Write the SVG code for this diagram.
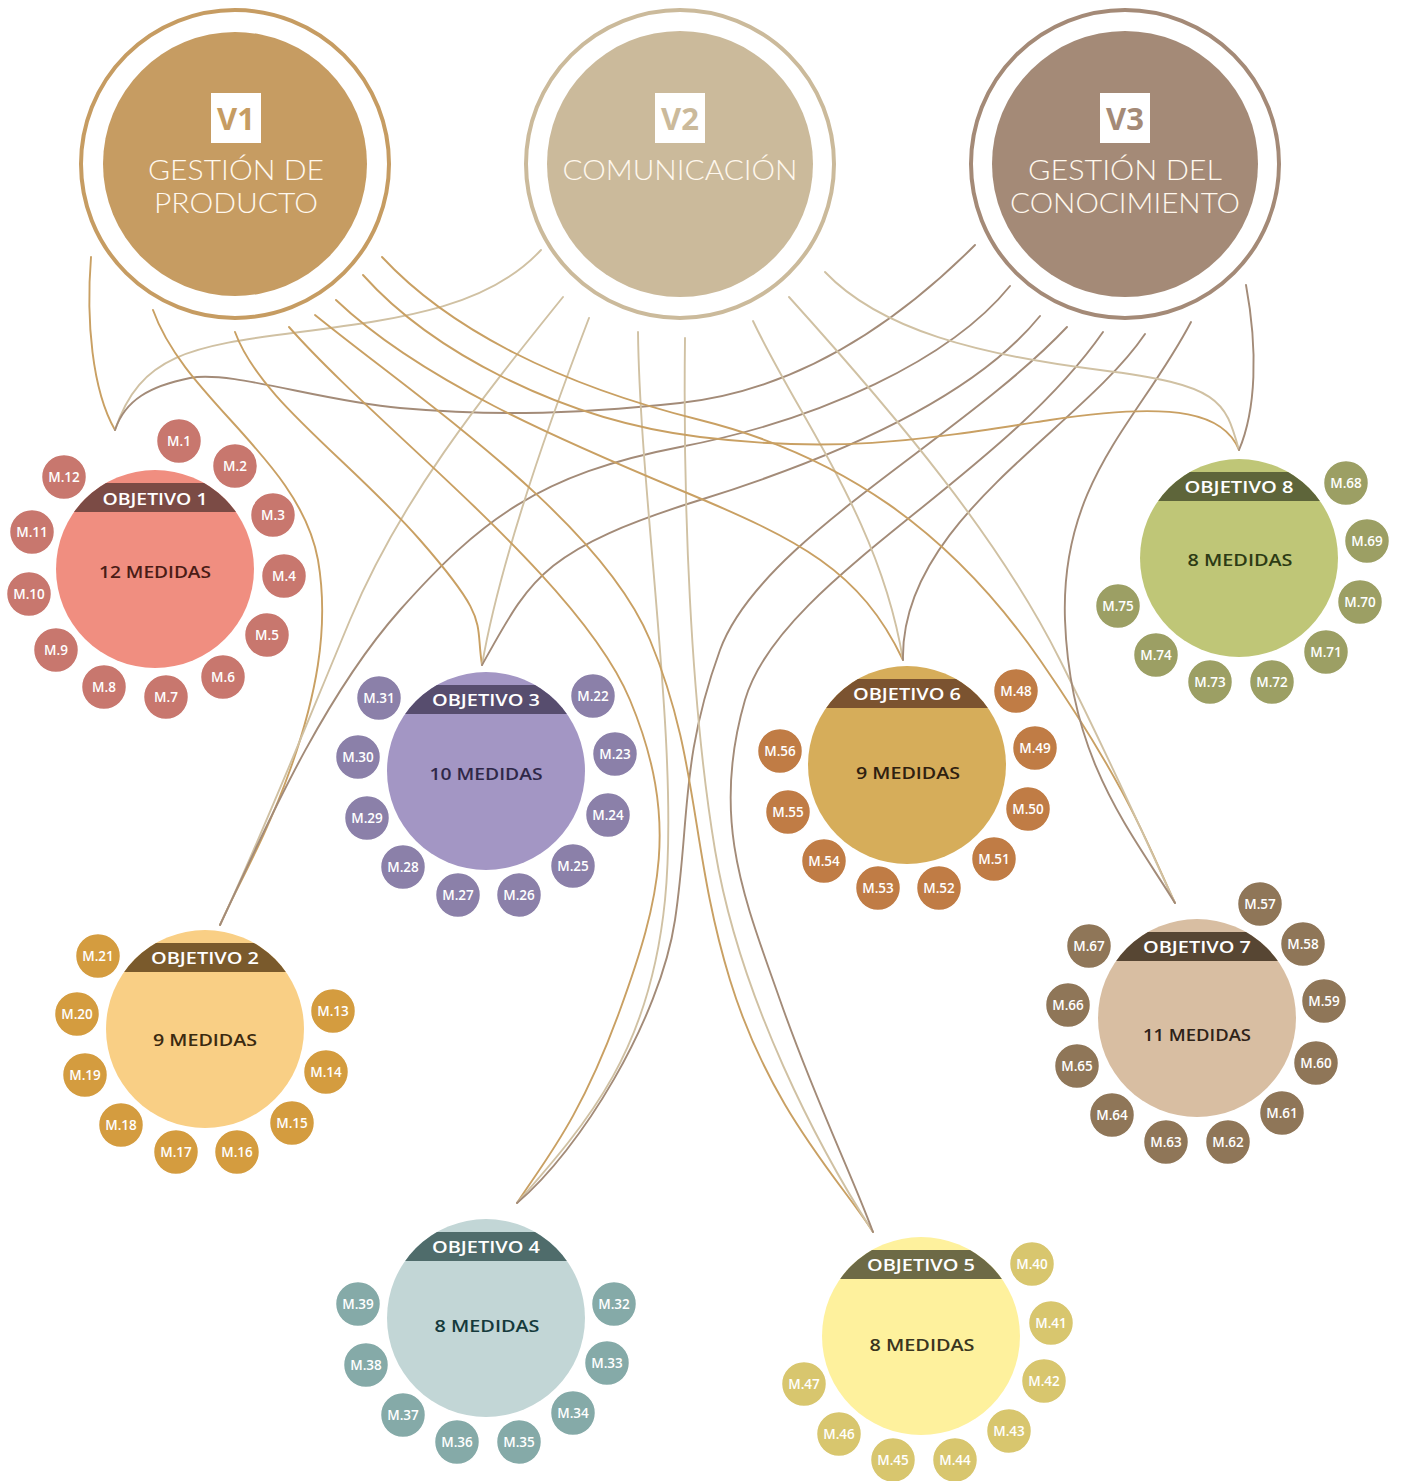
<svg xmlns="http://www.w3.org/2000/svg" width="1405" height="1481" viewBox="0 0 1405 1481">
<style>
.bg{fill:#ffffff}
.c path{fill:none;stroke-width:1.9;stroke-linecap:round}
.t1{stroke:#C9A063}
.t2{stroke:#D0C1A3}
.t3{stroke:#A38B78}
.vt{font-family:Lato,'Open Sans',sans-serif;font-weight:300;font-size:27px;fill:#FFF8EE;text-anchor:middle}
.vb{font-family:'Open Sans','Noto Sans',sans-serif;font-weight:700;font-size:31px;text-anchor:middle}
.ot{font-family:'Open Sans','Noto Sans',sans-serif;font-weight:600;font-size:17px;fill:#FFFFFF;text-anchor:middle}
.md{font-family:'Open Sans','Noto Sans',sans-serif;font-weight:600;font-size:17px;text-anchor:middle}
.m text{font-family:'Open Sans','Noto Sans',sans-serif;font-weight:600;font-size:13.5px;fill:#FFFFFF;text-anchor:middle}
.m circle{stroke:#FFFFFF;stroke-width:1.5}
.m1 circle{fill:#C8776E}.m2 circle{fill:#D49C3F}.m3 circle{fill:#8B80A9}.m4 circle{fill:#85AAA8}
.m5 circle{fill:#D8C66E}.m6 circle{fill:#C07C45}.m7 circle{fill:#8F7658}.m8 circle{fill:#9C9F64}
</style>
<defs>
<clipPath id="oc"><circle cx="0" cy="0" r="99"/></clipPath>
</defs>
<rect class="bg" x="0" y="0" width="1405" height="1481"/>

<g id="connectors" class="c">
<!-- Objetivo 1 -->
<path class="t1" d="M91,257 C86,320 92,390 115,430"/>
<path class="t2" d="M541,250 C490,305 410,318 300,332 S140,355 115,430"/>
<path class="t3" d="M975,245 C900,320 800,390 680,403 S480,415 400,408 S230,370 190,378 S125,400 115,430"/>
<!-- Objetivo 2 -->
<path class="t1" d="M153,310 C185,400 300,460 318,560 C330,630 315,700 290,770 S235,890 220,925"/>
<path class="t2" d="M563,297 C480,400 400,500 350,620 S260,840 220,925"/>
<path class="t3" d="M1010,286 C950,360 820,420 680,447 S480,520 400,610 S260,840 220,925"/>
<!-- Objetivo 3 -->
<path class="t1" d="M235,332 C260,400 350,460 420,540 S475,620 482,665"/>
<path class="t2" d="M589,318 C550,420 500,560 482,665"/>
<path class="t3" d="M1040,316 C980,390 860,450 700,500 S530,580 482,665"/>
<!-- Objetivo 4 -->
<path class="t1" d="M289,327 C380,430 580,580 630,700 S660,900 620,1010 S545,1160 517,1203"/>
<path class="t2" d="M638,332 C640,500 680,750 665,900 S590,1120 517,1203"/>
<path class="t3" d="M1067,327 C960,440 760,540 720,650 S690,820 675,920 S580,1150 517,1203"/>
<!-- Objetivo 5 -->
<path class="t1" d="M315,315 C420,400 600,520 650,640 S690,850 730,980 S840,1180 873,1232"/>
<path class="t2" d="M685,338 C683,500 690,700 715,850 S820,1150 873,1232"/>
<path class="t3" d="M1103,332 C1000,480 780,580 745,700 S745,900 780,1000 S850,1170 873,1232"/>
<!-- Objetivo 6 -->
<path class="t1" d="M336,300 C420,380 560,440 680,490 S860,570 903,660"/>
<path class="t2" d="M753,321 C800,420 880,520 903,660"/>
<path class="t3" d="M1145,334 C1080,430 900,520 903,660"/>
<!-- Objetivo 7 -->
<path class="t1" d="M382,257 C450,330 560,385 700,420 S950,530 1040,660 S1150,850 1175,903"/>
<path class="t2" d="M789,297 C900,420 1000,540 1060,660 S1150,850 1175,903"/>
<path class="t3" d="M1191,322 C1140,420 1060,480 1065,620 S1130,830 1175,903"/>
<!-- Objetivo 8 -->
<path class="t1" d="M363,275 C430,350 560,420 700,437 S920,440 1050,420 S1225,415 1239,450"/>
<path class="t2" d="M825,272 C880,330 980,355 1100,370 S1225,400 1239,450"/>
<path class="t3" d="M1246,285 C1258,350 1256,410 1239,450"/>
</g>

<g id="v1">
<circle cx="235" cy="164" r="154" fill="none" stroke="#C69C62" stroke-width="4"/>
<circle cx="235" cy="164" r="132" fill="#C69C62"/>
<rect x="211" y="93" width="50" height="50" fill="#FFFFFF"/>
<text class="vb" x="236" y="130" fill="#C69C62">V1</text>
<text class="vt" x="236" y="180" textLength="176" lengthAdjust="spacingAndGlyphs">GESTIÓN DE</text>
<text class="vt" x="236" y="213" textLength="164" lengthAdjust="spacingAndGlyphs">PRODUCTO</text>
</g>
<g id="v2">
<circle cx="680" cy="164" r="154" fill="none" stroke="#CBBA9B" stroke-width="4"/>
<circle cx="680" cy="164" r="133" fill="#CBBA9B"/>
<rect x="655" y="93" width="50" height="50" fill="#FFFFFF"/>
<text class="vb" x="680" y="130" fill="#CBBA9B">V2</text>
<text class="vt" x="680" y="180" textLength="235" lengthAdjust="spacingAndGlyphs">COMUNICACIÓN</text>
</g>
<g id="v3">
<circle cx="1125" cy="164" r="154" fill="none" stroke="#A48A77" stroke-width="4"/>
<circle cx="1125" cy="164" r="133" fill="#A48A77"/>
<rect x="1100" y="93" width="50" height="50" fill="#FFFFFF"/>
<text class="vb" x="1125" y="130" fill="#A48A77">V3</text>
<text class="vt" x="1125" y="180" textLength="194" lengthAdjust="spacingAndGlyphs">GESTIÓN DEL</text>
<text class="vt" x="1125" y="213" textLength="230" lengthAdjust="spacingAndGlyphs">CONOCIMIENTO</text>
</g>

<g id="obj1">
<g transform="translate(155,569)">
<circle r="99" fill="#F08E80"/>
<rect x="-100" y="-86" width="200" height="29" fill="#7B4B45" clip-path="url(#oc)"/>
<text class="ot" y="-64" textLength="105" lengthAdjust="spacingAndGlyphs">OBJETIVO 1</text>
<text class="md" y="9" fill="#4A1C16" textLength="112" lengthAdjust="spacingAndGlyphs">12 MEDIDAS</text>
</g>
<g class="m m1">
<circle cx="179" cy="441" r="22.5"/><text x="179" y="445.5">M.1</text>
<circle cx="235" cy="466" r="22.5"/><text x="235" y="470.5">M.2</text>
<circle cx="273" cy="515" r="22.5"/><text x="273" y="519.5">M.3</text>
<circle cx="284" cy="576" r="22.5"/><text x="284" y="580.5">M.4</text>
<circle cx="267" cy="635" r="22.5"/><text x="267" y="639.5">M.5</text>
<circle cx="223" cy="677" r="22.5"/><text x="223" y="681.5">M.6</text>
<circle cx="166" cy="697" r="22.5"/><text x="166" y="701.5">M.7</text>
<circle cx="104" cy="687" r="22.5"/><text x="104" y="691.5">M.8</text>
<circle cx="56" cy="650" r="22.5"/><text x="56" y="654.5">M.9</text>
<circle cx="29" cy="594" r="22.5"/><text x="29" y="598.5">M.10</text>
<circle cx="32" cy="532" r="22.5"/><text x="32" y="536.5">M.11</text>
<circle cx="64" cy="477" r="22.5"/><text x="64" y="481.5">M.12</text>
</g>
</g>

<g id="obj2">
<g transform="translate(205,1029)">
<circle r="99" fill="#F9CF85"/>
<rect x="-100" y="-86" width="200" height="29" fill="#7A5A2C" clip-path="url(#oc)"/>
<text class="ot" y="-65" textLength="108" lengthAdjust="spacingAndGlyphs">OBJETIVO 2</text>
<text class="md" y="17" fill="#3B2A10" textLength="104" lengthAdjust="spacingAndGlyphs">9 MEDIDAS</text>
</g>
<g class="m m2">
<circle cx="333" cy="1011" r="22.5"/><text x="333" y="1015.5">M.13</text>
<circle cx="326" cy="1072" r="22.5"/><text x="326" y="1076.5">M.14</text>
<circle cx="292" cy="1123" r="22.5"/><text x="292" y="1127.5">M.15</text>
<circle cx="237" cy="1152" r="22.5"/><text x="237" y="1156.5">M.16</text>
<circle cx="176" cy="1152" r="22.5"/><text x="176" y="1156.5">M.17</text>
<circle cx="121" cy="1125" r="22.5"/><text x="121" y="1129.5">M.18</text>
<circle cx="85" cy="1075" r="22.5"/><text x="85" y="1079.5">M.19</text>
<circle cx="77" cy="1014" r="22.5"/><text x="77" y="1018.5">M.20</text>
<circle cx="98" cy="956" r="22.5"/><text x="98" y="960.5">M.21</text>
</g>
</g>

<g id="obj3">
<g transform="translate(486,771)">
<circle r="99" fill="#A396C4"/>
<rect x="-100" y="-86" width="200" height="29" fill="#574D6E" clip-path="url(#oc)"/>
<text class="ot" y="-65" textLength="108" lengthAdjust="spacingAndGlyphs">OBJETIVO 3</text>
<text class="md" y="9" fill="#2F2848" textLength="113" lengthAdjust="spacingAndGlyphs">10 MEDIDAS</text>
</g>
<g class="m m3">
<circle cx="593" cy="696" r="22.5"/><text x="593" y="700.5">M.22</text>
<circle cx="615" cy="754" r="22.5"/><text x="615" y="758.5">M.23</text>
<circle cx="608" cy="815" r="22.5"/><text x="608" y="819.5">M.24</text>
<circle cx="573" cy="866" r="22.5"/><text x="573" y="870.5">M.25</text>
<circle cx="519" cy="895" r="22.5"/><text x="519" y="899.5">M.26</text>
<circle cx="458" cy="895" r="22.5"/><text x="458" y="899.5">M.27</text>
<circle cx="403" cy="867" r="22.5"/><text x="403" y="871.5">M.28</text>
<circle cx="367" cy="818" r="22.5"/><text x="367" y="822.5">M.29</text>
<circle cx="358" cy="757" r="22.5"/><text x="358" y="761.5">M.30</text>
<circle cx="379" cy="698" r="22.5"/><text x="379" y="702.5">M.31</text>
</g>
</g>

<g id="obj4">
<g transform="translate(486,1318)">
<circle r="99" fill="#C2D6D6"/>
<rect x="-100" y="-86" width="200" height="29" fill="#4F6C6B" clip-path="url(#oc)"/>
<text class="ot" y="-65" textLength="108" lengthAdjust="spacingAndGlyphs">OBJETIVO 4</text>
<text class="md" x="1" y="14" fill="#153A3C" textLength="105" lengthAdjust="spacingAndGlyphs">8 MEDIDAS</text>
</g>
<g class="m m4">
<circle cx="614" cy="1304" r="22.5"/><text x="614" y="1308.5">M.32</text>
<circle cx="607" cy="1363" r="22.5"/><text x="607" y="1367.5">M.33</text>
<circle cx="573" cy="1413" r="22.5"/><text x="573" y="1417.5">M.34</text>
<circle cx="519" cy="1442" r="22.5"/><text x="519" y="1446.5">M.35</text>
<circle cx="457" cy="1442" r="22.5"/><text x="457" y="1446.5">M.36</text>
<circle cx="403" cy="1415" r="22.5"/><text x="403" y="1419.5">M.37</text>
<circle cx="366" cy="1365" r="22.5"/><text x="366" y="1369.5">M.38</text>
<circle cx="358" cy="1304" r="22.5"/><text x="358" y="1308.5">M.39</text>
</g>
</g>

<g id="obj5">
<g transform="translate(921,1336)">
<circle r="99" fill="#FEF19D"/>
<rect x="-100" y="-86" width="200" height="29" fill="#6D6A46" clip-path="url(#oc)"/>
<text class="ot" y="-65" textLength="108" lengthAdjust="spacingAndGlyphs">OBJETIVO 5</text>
<text class="md" x="1" y="15" fill="#3A351E" textLength="105" lengthAdjust="spacingAndGlyphs">8 MEDIDAS</text>
</g>
<g class="m m5">
<circle cx="1032" cy="1264" r="22.5"/><text x="1032" y="1268.5">M.40</text>
<circle cx="1051" cy="1323" r="22.5"/><text x="1051" y="1327.5">M.41</text>
<circle cx="1044" cy="1381" r="22.5"/><text x="1044" y="1385.5">M.42</text>
<circle cx="1009" cy="1431" r="22.5"/><text x="1009" y="1435.5">M.43</text>
<circle cx="955" cy="1460" r="22.5"/><text x="955" y="1464.5">M.44</text>
<circle cx="893" cy="1460" r="22.5"/><text x="893" y="1464.5">M.45</text>
<circle cx="839" cy="1434" r="22.5"/><text x="839" y="1438.5">M.46</text>
<circle cx="804" cy="1384" r="22.5"/><text x="804" y="1388.5">M.47</text>
</g>
</g>

<g id="obj6">
<g transform="translate(907,765)">
<circle r="99" fill="#D6AD5A"/>
<rect x="-100" y="-86" width="200" height="29" fill="#7B5330" clip-path="url(#oc)"/>
<text class="ot" y="-65" textLength="108" lengthAdjust="spacingAndGlyphs">OBJETIVO 6</text>
<text class="md" x="1" y="14" fill="#2F2010" textLength="104" lengthAdjust="spacingAndGlyphs">9 MEDIDAS</text>
</g>
<g class="m m6">
<circle cx="1016" cy="691" r="22.5"/><text x="1016" y="695.5">M.48</text>
<circle cx="1035" cy="748" r="22.5"/><text x="1035" y="752.5">M.49</text>
<circle cx="1028" cy="809" r="22.5"/><text x="1028" y="813.5">M.50</text>
<circle cx="994" cy="859" r="22.5"/><text x="994" y="863.5">M.51</text>
<circle cx="939" cy="888" r="22.5"/><text x="939" y="892.5">M.52</text>
<circle cx="878" cy="888" r="22.5"/><text x="878" y="892.5">M.53</text>
<circle cx="824" cy="861" r="22.5"/><text x="824" y="865.5">M.54</text>
<circle cx="788" cy="812" r="22.5"/><text x="788" y="816.5">M.55</text>
<circle cx="780" cy="751" r="22.5"/><text x="780" y="755.5">M.56</text>
</g>
</g>

<g id="obj7">
<g transform="translate(1197,1018)">
<circle r="99" fill="#D8BEA2"/>
<rect x="-100" y="-86" width="200" height="29" fill="#574633" clip-path="url(#oc)"/>
<text class="ot" y="-65" textLength="108" lengthAdjust="spacingAndGlyphs">OBJETIVO 7</text>
<text class="md" y="23" fill="#2E2218" textLength="108" lengthAdjust="spacingAndGlyphs">11 MEDIDAS</text>
</g>
<g class="m m7">
<circle cx="1260" cy="904" r="22.5"/><text x="1260" y="908.5">M.57</text>
<circle cx="1303" cy="944" r="22.5"/><text x="1303" y="948.5">M.58</text>
<circle cx="1324" cy="1001" r="22.5"/><text x="1324" y="1005.5">M.59</text>
<circle cx="1316" cy="1063" r="22.5"/><text x="1316" y="1067.5">M.60</text>
<circle cx="1282" cy="1113" r="22.5"/><text x="1282" y="1117.5">M.61</text>
<circle cx="1228" cy="1142" r="22.5"/><text x="1228" y="1146.5">M.62</text>
<circle cx="1166" cy="1142" r="22.5"/><text x="1166" y="1146.5">M.63</text>
<circle cx="1112" cy="1115" r="22.5"/><text x="1112" y="1119.5">M.64</text>
<circle cx="1077" cy="1066" r="22.5"/><text x="1077" y="1070.5">M.65</text>
<circle cx="1068" cy="1005" r="22.5"/><text x="1068" y="1009.5">M.66</text>
<circle cx="1089" cy="946" r="22.5"/><text x="1089" y="950.5">M.67</text>
</g>
</g>

<g id="obj8">
<g transform="translate(1239,558)">
<circle r="99" fill="#BFC677"/>
<rect x="-100" y="-86" width="200" height="29" fill="#5E653A" clip-path="url(#oc)"/>
<text class="ot" y="-65" textLength="109" lengthAdjust="spacingAndGlyphs">OBJETIVO 8</text>
<text class="md" x="1" y="8" fill="#2D3B14" textLength="105" lengthAdjust="spacingAndGlyphs">8 MEDIDAS</text>
</g>
<g class="m m8">
<circle cx="1346" cy="483" r="22.5"/><text x="1346" y="487.5">M.68</text>
<circle cx="1367" cy="541" r="22.5"/><text x="1367" y="545.5">M.69</text>
<circle cx="1360" cy="602" r="22.5"/><text x="1360" y="606.5">M.70</text>
<circle cx="1326" cy="652" r="22.5"/><text x="1326" y="656.5">M.71</text>
<circle cx="1272" cy="682" r="22.5"/><text x="1272" y="686.5">M.72</text>
<circle cx="1210" cy="682" r="22.5"/><text x="1210" y="686.5">M.73</text>
<circle cx="1156" cy="655" r="22.5"/><text x="1156" y="659.5">M.74</text>
<circle cx="1118" cy="606" r="22.5"/><text x="1118" y="610.5">M.75</text>
</g>
</g>
</svg>
